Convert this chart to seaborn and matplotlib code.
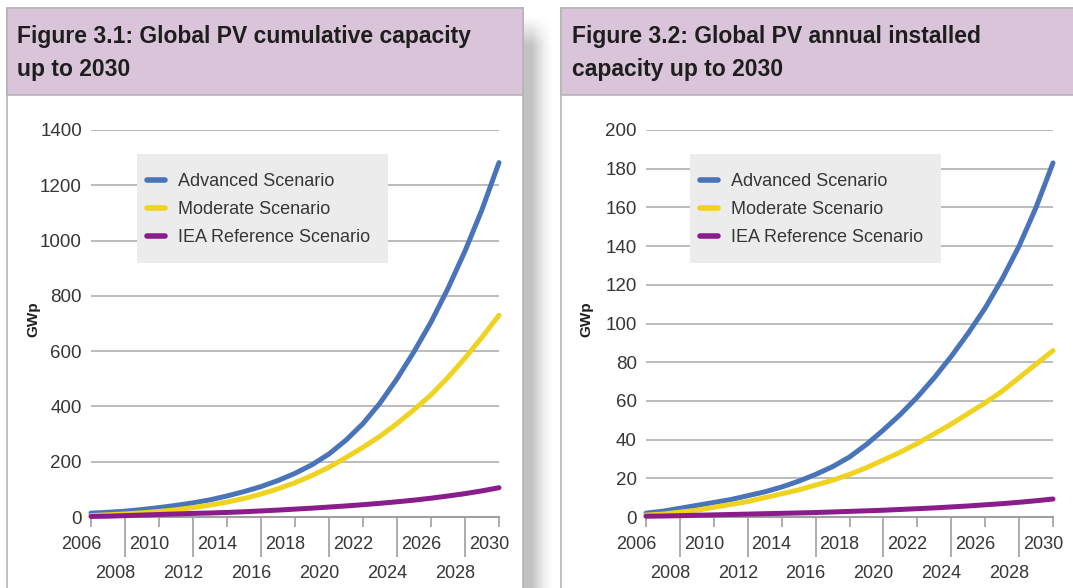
import numpy as np
import pandas as pd
import matplotlib
matplotlib.use("Agg")
import matplotlib.pyplot as plt
import matplotlib.transforms as mtransforms
from matplotlib.patches import Rectangle
from matplotlib.lines import Line2D
import seaborn as sns

# data
years = list(range(2006, 2031))
scenarios = ["Advanced Scenario", "Moderate Scenario", "IEA Reference Scenario"]
colors = ["#4a74b9", "#f0d320", "#8b1c8c"]

cum_advanced = [14, 17, 21, 27, 34, 42, 51, 62, 76, 92, 110, 132, 158, 189, 228,
                278, 338, 412, 500, 598, 705, 827, 962, 1112, 1282]
cum_moderate = [5, 8, 11, 15, 20, 26, 34, 43, 54, 67, 83, 102, 124, 150, 180,
                215, 252, 292, 338, 388, 442, 505, 575, 650, 730]
cum_iea = [2, 3, 5, 7, 9, 11, 13, 14.5, 16.5, 19, 22, 25, 28.5, 32, 36,
           40, 44.5, 49.5, 55, 61, 68, 76, 84.5, 94.5, 106]

ann_advanced = [2, 3, 4.5, 6, 7.5, 9, 11, 13, 15.5, 18.5, 22, 26, 31, 37.5, 45,
                53, 62, 72, 83, 95, 108, 123, 140, 160, 183]
ann_moderate = [1, 1.5, 2.5, 3.5, 5, 6.5, 8, 10, 12, 14, 16.5, 19, 22, 25.5, 29.5,
                33.5, 38, 43, 48, 53.5, 59, 65, 72, 79, 86]
ann_iea = [0.4, 0.5, 0.7, 0.9, 1.1, 1.3, 1.5, 1.7, 1.9, 2.1, 2.3, 2.6, 2.9, 3.2, 3.5,
           3.9, 4.3, 4.7, 5.2, 5.7, 6.3, 6.9, 7.6, 8.4, 9.3]

titles = [("Figure 3.1: Global PV cumulative capacity", "up to 2030"),
          ("Figure 3.2: Global PV annual installed", "capacity up to 2030")]
y_ticks = [list(range(0, 1401, 200)), list(range(0, 201, 20))]
major_years = list(range(2006, 2031, 4))
minor_years = list(range(2008, 2029, 4))


def long_df(series):
    return pd.DataFrame({
        "year": years * len(series),
        "GWp": [v for s in series for v in s],
        "scenario": np.repeat(scenarios, len(years)),
    })


sns.set_theme(style="white")
plt.rcParams["font.family"] = ["Liberation Sans", "DejaVu Sans"]

W, H = 1073, 588
fig = plt.figure(figsize=(W / 100, H / 100), dpi=100)
fig.patch.set_facecolor("white")


def fx(x):
    return x / W


def fy(y):
    return 1 - y / H


border = "#b5b5b5"
header = "#d9c4d9"
text_col = "#363636"

# drop shadow between the two panels
shadow_ax = fig.add_axes([fx(523), 0, fx(560) - fx(523), fy(16)], zorder=0)
t = np.linspace(0, 1, 200)
alpha_x = np.clip(1 - (t - 0.25) / 0.6, 0, 1) ** 1.6 * 0.24
rows = np.linspace(0, 1, 300)
alpha_y = np.clip(rows / 0.05, 0, 1)
img = np.zeros((300, 200, 4))
img[..., 3] = alpha_y[:, None] * alpha_x[None, :]
shadow_ax.imshow(img, aspect="auto", extent=(0, 1, 0, 1), origin="upper")
shadow_ax.axis("off")

# panel frames and header bands
for x0, x1 in [(7, 523), (561, 1090)]:
    fig.add_artist(Rectangle((fx(x0), -0.02), fx(x1) - fx(x0), fy(8) + 0.02,
                             transform=fig.transFigure, fc="white", ec=border,
                             lw=1.2, zorder=1))
    fig.add_artist(Rectangle((fx(x0), fy(95)), fx(x1) - fx(x0), fy(8) - fy(95),
                             transform=fig.transFigure, fc=header, ec=border,
                             lw=1.2, zorder=1))

title_x = [17, 572]
for i, (l1, l2) in enumerate(titles):
    fig.text(fx(title_x[i]), fy(43), l1, fontsize=16.5, fontweight="bold",
             color="#1e1e1e", va="baseline", zorder=3)
    fig.text(fx(title_x[i]), fy(76), l2, fontsize=16.5, fontweight="bold",
             color="#1e1e1e", va="baseline", zorder=3)

axes_x = [(91, 499), (646, 1053)]
ylabel_x = [33, 586]
legend_box = [(137, 388), (690, 941)]
datasets = [long_df([cum_advanced, cum_moderate, cum_iea]),
            long_df([ann_advanced, ann_moderate, ann_iea])]
palette = dict(zip(scenarios, colors))

for i in range(2):
    x0, x1 = axes_x[i]
    ax = fig.add_axes([fx(x0), fy(517), fx(x1) - fx(x0), fy(130) - fy(517)], zorder=2)
    ax.patch.set_alpha(0)
    sns.lineplot(data=datasets[i], x="year", y="GWp", hue="scenario",
                 palette=palette, linewidth=3.6, legend=False, ax=ax,
                 solid_capstyle="round", clip_on=False)
    for line in ax.lines:
        line.set_zorder(3)

    ax.set_xlim(2006, 2030)
    ax.set_ylim(y_ticks[i][0], y_ticks[i][-1])
    ax.set_yticks(y_ticks[i])
    ax.set_yticklabels([str(v) for v in y_ticks[i]])
    ax.yaxis.grid(True, color="#b0b0b0", lw=1.2)
    ax.xaxis.grid(False)
    ax.set_axisbelow(True)
    ax.tick_params(axis="y", length=0, pad=6.5, labelsize=13.5, labelcolor=text_col)

    ax.set_xticks(major_years)
    ax.set_xticklabels([str(y) for y in major_years])
    ax.set_xticks(minor_years, minor=True)
    ax.set_xticklabels([str(y) for y in minor_years], minor=True)
    ax.tick_params(axis="x", which="major", length=7.2, width=1.2, color="#a0a0a0",
                   pad=6.5, labelsize=13, labelcolor=text_col, bottom=True)
    ax.tick_params(axis="x", which="minor", length=28.5, width=1.2, color="#a0a0a0",
                   pad=6, labelsize=13, labelcolor=text_col, bottom=True)
    shift = mtransforms.ScaledTranslation(-0.10, 0, fig.dpi_scale_trans)
    for lbl in ax.get_xticklabels(which="both"):
        lbl.set_transform(lbl.get_transform() + shift)

    for side in ["top", "right", "left"]:
        ax.spines[side].set_visible(False)
    ax.spines["bottom"].set_color("#a0a0a0")
    ax.spines["bottom"].set_linewidth(1.5)
    ax.set_xlabel("")
    ax.set_ylabel("")

    fig.text(fx(ylabel_x[i]), fy(319), "GWp", rotation=90, fontsize=11,
             fontweight="bold", color="#1e1e1e", ha="center", va="center", zorder=3)

    # legend: grey box drawn inside the axes so it sits over the gridlines
    lx0, lx1 = legend_box[i]
    box = Rectangle((fx(lx0), fy(263)), fx(lx1) - fx(lx0), fy(154) - fy(263),
                    transform=fig.transFigure, fc="#ececec", ec="none",
                    zorder=1, clip_on=False)
    ax.add_artist(box)
    handles = [Line2D([], [], color=c, lw=4, solid_capstyle="round") for c in colors]
    leg = ax.legend(handles, scenarios, loc="upper left",
                    bbox_to_anchor=(fx(lx0 + 10), fy(173)),
                    bbox_transform=fig.transFigure, frameon=False, fontsize=13,
                    handlelength=1.0, handletextpad=0.7, labelspacing=0.62,
                    borderpad=0, borderaxespad=0)
    leg.set_zorder(5)
    for txt in leg.get_texts():
        txt.set_color(text_col)

fig.savefig("out.png", dpi=100)
